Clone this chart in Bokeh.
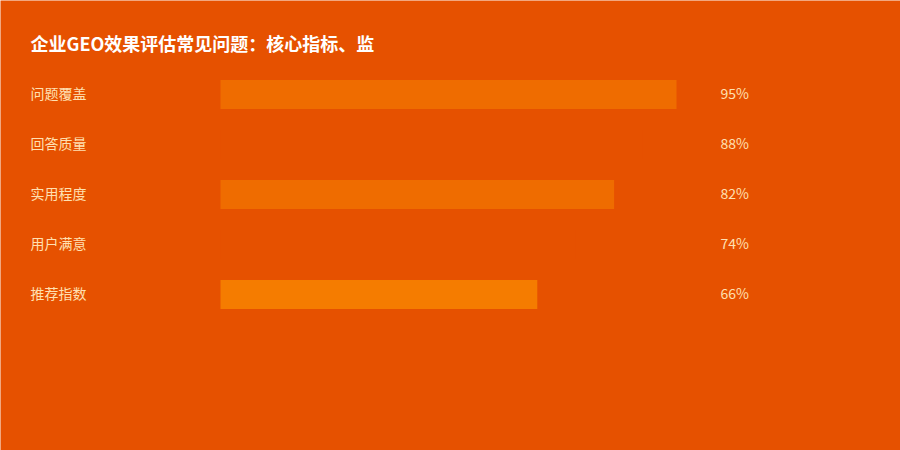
from bokeh.plotting import figure
from bokeh.models import Range1d, ColumnDataSource
from bokeh.core.properties import value
from bokeh.embed import file_html
from bokeh.resources import INLINE

title_text = "企业GEO效果评估常见问题：核心指标、监"
categories = ["问题覆盖", "回答质量", "实用程度", "用户满意", "推荐指数"]
values = [95, 88, 82, 74, 66]
bar_colors = ["#EF6C00", "#E65100", "#EF6C00", "#E65100", "#F57C00"]

BG = "#E65100"
FONT = "Noto Sans CJK SC"
W, H = 900, 450
X0 = 220      # pixel where 0% sits
PX = 4.8      # pixels per percent
Y0 = 94       # pixel centre of first row
ROW = 50      # pixels per row

rows = list(range(len(categories)))
src = ColumnDataSource(dict(
    y=rows,
    v=values,
    cat=categories,
    color=bar_colors,
    lbl=[f"{v}%" for v in values],
))

p = figure(width=W, height=H, output_backend="svg", toolbar_location=None,
           x_range=Range1d(-X0 / PX, (W - X0) / PX),
           y_range=Range1d((H - Y0) / ROW, -Y0 / ROW),
           min_border=0, min_border_left=0, min_border_right=0,
           min_border_top=0, min_border_bottom=0)
p.axis.visible = False
p.grid.visible = False
p.outline_line_color = None
p.background_fill_color = BG
p.border_fill_color = BG

p.hbar(y="y", left=0, right="v", height=0.58, fill_color="color",
       line_color=None, source=src)

label_x = (30 - X0) / PX
p.text(x=label_x, y="y", text="cat", source=src, text_font=value(FONT),
       text_font_size="14px", text_color="#FFE0B2", text_align="left",
       text_baseline="middle", y_offset=-2)

p.text(x=(720 - X0) / PX, y="y", text="lbl", source=src, text_font=value(FONT),
       text_font_size="14px", text_color="#FFE0B2", text_align="left",
       text_baseline="middle", y_offset=-2)

p.text(x=[label_x], y=[-1.0], text=[title_text], text_font=value(FONT),
       text_font_size="18px", text_font_style="bold", text_color="#FFFFFF",
       text_align="left", text_baseline="middle", y_offset=-2)

open("out.html", "w").write(file_html(p, INLINE))
